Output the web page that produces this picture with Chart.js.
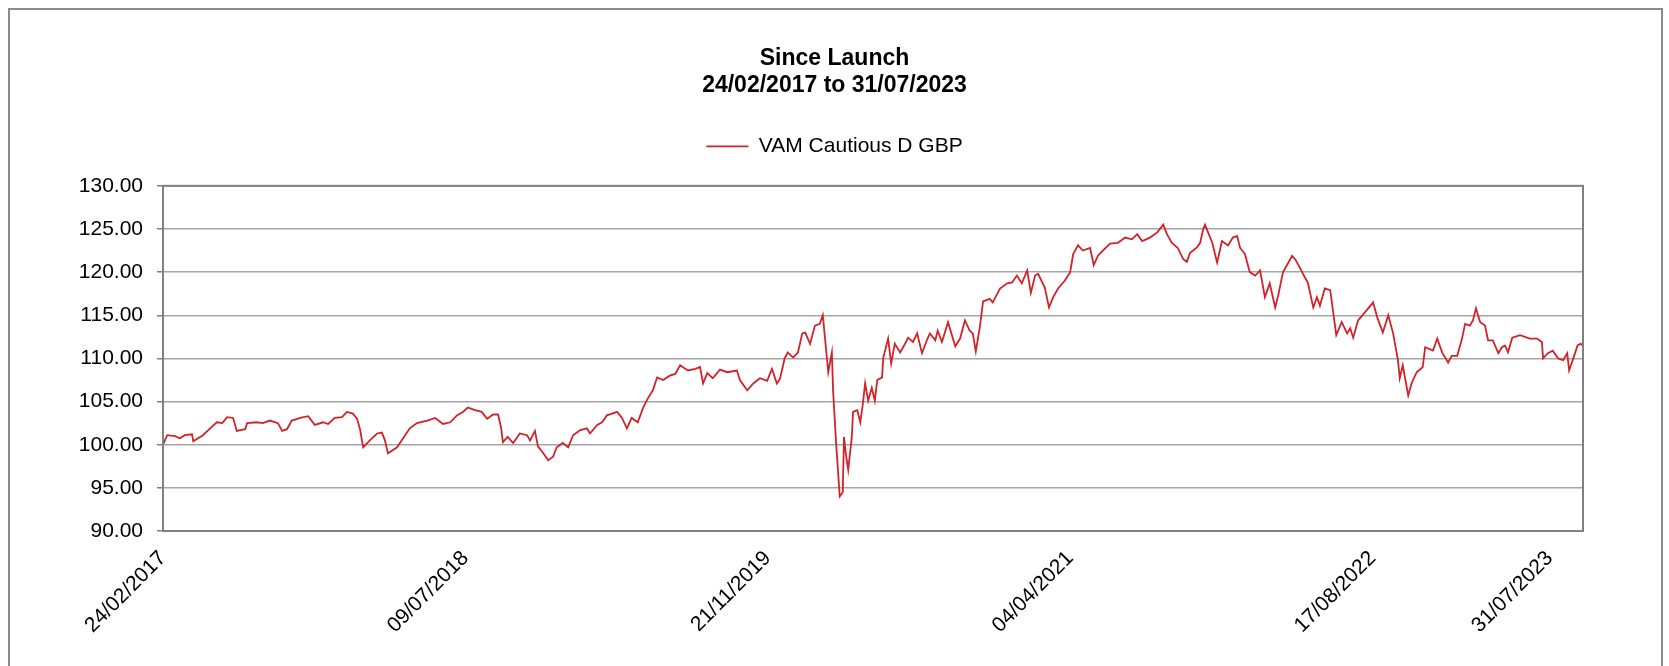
<!DOCTYPE html>
<html>
<head>
<meta charset="utf-8">
<script src="https://cdn.jsdelivr.net/npm/chart.js@4"></script>
<style>
  html, body { margin: 0; padding: 0; background: #fff; }
  #wrap { position: relative; width: 1669px; height: 666px; overflow: hidden; }
  #frame { position: absolute; left: 8px; top: 8px; width: 1655px; height: 700px; border: 2px solid #8a8a8a; box-sizing: border-box; }
  canvas { position: absolute; left: 0; top: 0; }
</style>
</head>
<body>
<div id="wrap">
  <div id="frame"></div>
  <canvas id="navChart" width="1669" height="666"></canvas>
</div>
<script>
// ── Since Launch NAV chart ───────────────────────────────────────────────────

const launchDate = '24/02/2017';
const seriesName = 'VAM Cautious D GBP';

// days since launch
const navDays = [
    0, 7, 20, 28, 36, 48, 50, 66, 78, 89, 98, 106, 116, 122, 136, 139, 155, 165, 177, 190,
    197, 205, 213, 227, 240, 251, 265, 273, 284, 296, 304, 314, 321, 326, 331, 342, 354, 362, 367, 372,
    387, 397, 408, 420, 437, 450, 463, 475, 486, 496, 504, 516, 527, 536, 546, 554, 559, 562, 570, 579,
    590, 602, 607, 615, 620, 628, 637, 645, 651, 661, 670, 678, 690, 701, 706, 718, 726, 734, 751, 759,
    767, 775, 785, 794, 802, 810, 817, 827, 838, 847, 855, 868, 880, 888, 893, 900, 909, 921, 933, 949,
    954, 966, 976, 987, 999, 1007, 1015, 1020, 1028, 1033, 1042, 1050, 1057, 1062, 1070, 1078, 1086, 1091, 1100, 1106,
    1108, 1113, 1116, 1119, 1124, 1126, 1129, 1133, 1139, 1141, 1148, 1153, 1157, 1161, 1166, 1172, 1177, 1181, 1189, 1191,
    1199, 1204, 1210, 1219, 1227, 1232, 1240, 1247, 1255, 1263, 1268, 1277, 1281, 1288, 1298, 1310, 1318, 1326, 1334, 1339,
    1344, 1351, 1356, 1367, 1372, 1384, 1396, 1404, 1412, 1420, 1429, 1435, 1442, 1447, 1458, 1465, 1472, 1480, 1491, 1500,
    1505, 1513, 1521, 1533, 1539, 1546, 1554, 1566, 1579, 1591, 1602, 1611, 1619, 1632, 1644, 1654, 1660, 1668, 1678, 1687,
    1693, 1698, 1710, 1715, 1720, 1723, 1728, 1735, 1743, 1751, 1761, 1769, 1776, 1781, 1789, 1797, 1806, 1814, 1822, 1830,
    1839, 1844, 1852, 1860, 1867, 1872, 1880, 1888, 1893, 1902, 1908, 1913, 1921, 1930, 1940, 1949, 1958, 1963, 1968, 1976,
    1988, 2001, 2008, 2017, 2026, 2034, 2042, 2045, 2050, 2059, 2065, 2073, 2083, 2087, 2100, 2107, 2115, 2125, 2131, 2140,
    2148, 2153, 2161, 2166, 2171, 2178, 2186, 2191, 2199, 2208, 2214, 2219, 2224, 2231, 2244, 2260, 2272, 2280, 2282, 2290,
    2298, 2307, 2315, 2322, 2325, 2332, 2339, 2344, 2348
];

const navValues = [
    100.0, 101.1, 101.0, 100.75, 101.1, 101.2, 100.4, 101.1, 101.9, 102.6, 102.5, 103.2, 103.1, 101.6, 101.8, 102.5, 102.6, 102.5, 102.8, 102.5,
    101.6, 101.8, 102.8, 103.1, 103.3, 102.3, 102.6, 102.4, 103.1, 103.2, 103.8, 103.6, 103.0, 101.7, 99.7, 100.5, 101.3, 101.4, 100.5, 99.0,
    99.7, 100.75, 101.9, 102.5, 102.8, 103.1, 102.4, 102.6, 103.4, 103.8, 104.3, 104.0, 103.8, 103.0, 103.5, 103.5, 102.0, 100.3, 100.9, 100.2,
    101.3, 101.1, 100.5, 101.6, 99.8, 99.1, 98.2, 98.6, 99.7, 100.2, 99.7, 101.1, 101.7, 101.9, 101.3, 102.3, 102.6, 103.4, 103.8, 103.1,
    101.9, 103.1, 102.6, 104.3, 105.4, 106.3, 107.8, 107.5, 108.0, 108.2, 109.2, 108.6, 108.8, 109.0, 107.1, 108.3, 107.7, 108.7, 108.4, 108.6,
    107.5, 106.3, 107.1, 107.7, 107.4, 108.8, 107.1, 107.6, 110.0, 110.7, 110.1, 110.7, 112.9, 113.0, 111.7, 113.8, 114.0, 115.0, 108.4, 110.7,
    106.3, 100.2, 97.1, 94.0, 94.5, 100.9, 99.0, 97.1, 100.9, 103.8, 104.0, 102.6, 104.6, 107.1, 105.1, 106.6, 105.1, 107.5, 107.8, 110.1,
    112.3, 109.4, 111.7, 110.7, 111.7, 112.4, 111.9, 112.9, 110.6, 112.1, 112.9, 112.1, 113.2, 111.9, 114.2, 111.4, 112.3, 114.4, 113.2, 112.9,
    110.8, 113.8, 116.6, 116.9, 116.5, 118.1, 118.7, 118.8, 119.6, 118.7, 120.2, 117.6, 119.6, 119.8, 118.2, 115.9, 117.1, 118.1, 119.0, 120.0,
    122.1, 123.1, 122.5, 122.8, 120.8, 121.9, 122.5, 123.3, 123.4, 124.0, 123.8, 124.4, 123.6, 124.0, 124.6, 125.5, 124.4, 123.4, 122.8, 121.5,
    121.2, 122.2, 122.9, 123.4, 125.0, 125.5, 124.6, 123.4, 121.1, 123.6, 123.1, 124.0, 124.2, 122.8, 122.1, 120.0, 119.6, 120.2, 117.1, 118.7,
    115.9, 117.3, 120.0, 121.0, 121.9, 121.5, 120.5, 119.4, 118.8, 115.9, 117.1, 116.1, 118.1, 117.9, 112.7, 114.2, 112.9, 113.5, 112.4, 114.4,
    115.4, 116.5, 114.7, 113.0, 115.0, 112.9, 109.8, 107.7, 109.2, 105.7, 107.2, 108.4, 109.0, 111.3, 110.9, 112.3, 110.7, 109.5, 110.3, 110.3,
    112.3, 114.0, 113.8, 114.4, 115.8, 114.2, 113.8, 112.1, 112.1, 110.6, 111.3, 111.5, 110.7, 112.4, 112.7, 112.3, 112.3, 111.9, 110.0, 110.6,
    110.9, 110.0, 109.8, 110.6, 108.6, 110.0, 111.5, 111.7, 111.5
];

// x axis labels (every 500 days, last one at the end date)
const xTickDays = [0, 500, 1000, 1500, 2000, 2293];
const xTickLabels = ['24/02/2017', '09/07/2018', '21/11/2019', '04/04/2021', '17/08/2022', '31/07/2023'];

const yMin = 90, yMax = 130, yStep = 5;

const FONT = '"Liberation Sans", Arial, sans-serif';

const plotFrame = {
    id: 'plotFrame',
    afterDraw(chart) {
        const { ctx, chartArea: a } = chart;
        ctx.save();
        ctx.strokeStyle = '#808080';
        ctx.lineWidth = 2;
        ctx.strokeRect(a.left, a.top, a.right - a.left, a.bottom - a.top);
        ctx.restore();
    }
};

// extra gap between the legend and the plot
const legendGap = {
    id: 'legendGap',
    beforeInit(chart) {
        const fit = chart.legend.fit;
        chart.legend.fit = function () {
            fit.bind(chart.legend)();
            this.height += 19;
        };
    }
};

const ctx = document.getElementById('navChart').getContext('2d');
new Chart(ctx, {
    type: 'line',
    data: {
        datasets: [{
            label: seriesName,
            data: navDays.map((d, i) => ({ x: d, y: navValues[i] })),
            borderColor: '#d2232a',
            backgroundColor: '#d2232a',
            borderWidth: 1.8,
            pointRadius: 0,
            tension: 0
        }]
    },
    options: {
        responsive: false,
        animation: false,
        layout: { padding: 0 },
        plugins: {
            title: {
                display: true,
                text: ['Since Launch', launchDate + ' to 31/07/2023'],
                color: '#000',
                font: { family: FONT, size: 23, weight: 'bold', lineHeight: 1.17 },
                padding: { top: 45, bottom: 27 }
            },
            legend: {
                display: true,
                labels: {
                    color: '#000',
                    font: { family: FONT, size: 21 },
                    usePointStyle: true,
                    pointStyle: 'line',
                    pointStyleWidth: 42,
                    padding: 10
                }
            },
            tooltip: { enabled: false }
        },
        scales: {
            x: {
                type: 'linear',
                min: 0,
                max: 2348,
                grid: { display: false },
                border: { display: true, color: '#808080', width: 2 },
                afterBuildTicks: s => { s.ticks = xTickDays.map(v => ({ value: v })); },
                afterFit: s => { s.height = 135; },
                ticks: {
                    autoSkip: false,
                    minRotation: 45,
                    maxRotation: 45,
                    padding: 7,
                    color: '#000',
                    font: { family: FONT, size: 21 },
                    callback: (v, i) => xTickLabels[i]
                }
            },
            y: {
                min: yMin,
                max: yMax,
                grid: { color: '#a6a6a6', lineWidth: 1.5, tickLength: 6, tickColor: '#808080' },
                border: { display: true, color: '#808080', width: 2 },
                afterFit: s => { s.width = 163; },
                ticks: {
                    stepSize: yStep,
                    padding: 14,
                    color: '#000',
                    font: { family: FONT, size: 21 },
                    callback: v => Number(v).toFixed(2)
                }
            },
            // empty right-hand gutter so the title and legend stay centred on the canvas
            gutter: {
                type: 'linear',
                position: 'right',
                grid: { display: false },
                border: { display: false },
                ticks: { display: false },
                afterFit: s => { s.width = 86; }
            }
        }
    },
    plugins: [plotFrame, legendGap]
});
</script>
</body>
</html>
